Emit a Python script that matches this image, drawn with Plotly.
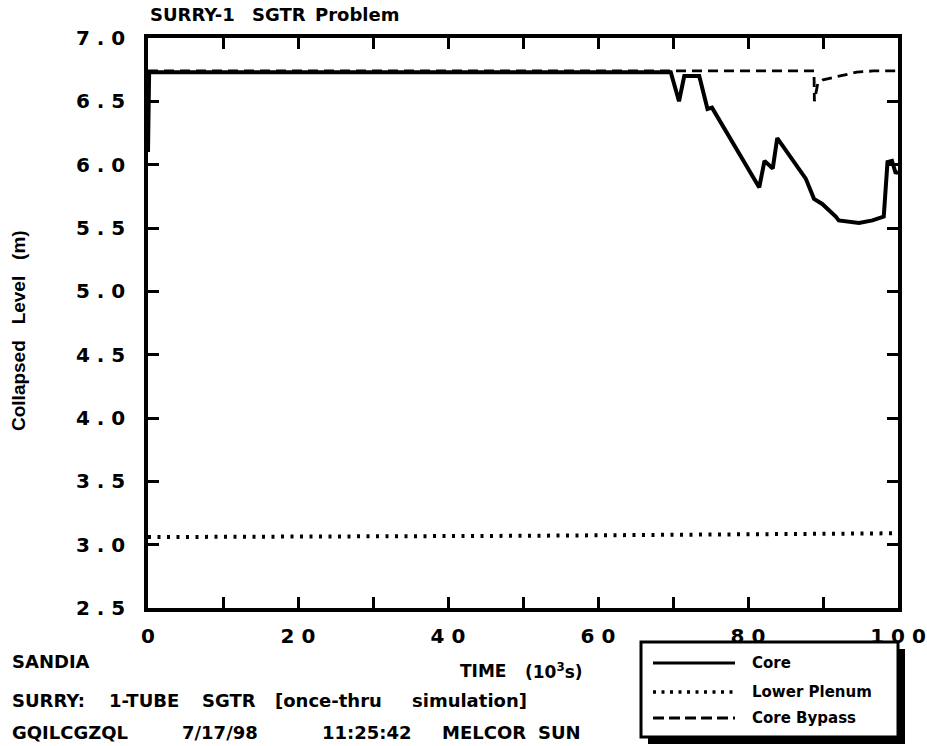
import plotly.graph_objects as go

# ---- data (time in 10^3 s, level in m) ----
core_t = [0.0, 0.15, 0.4, 69.7, 70.8, 71.5, 73.5, 74.6, 75.2, 76.2, 81.5, 82.2, 83.3, 83.9,
          87.7, 88.8, 89.9, 91.7, 92.1, 94.8, 96.6, 98.1, 98.6, 99.2, 99.7, 100.0]
core_v = [6.10, 6.73, 6.73, 6.73, 6.50, 6.70, 6.70, 6.44, 6.45, 6.35, 5.82, 6.03, 5.97, 6.21,
          5.89, 5.73, 5.69, 5.59, 5.56, 5.54, 5.56, 5.59, 6.02, 6.03, 5.93, 5.95]

plenum_t = [0.0, 50.0, 100.0]
plenum_v = [3.06, 3.07, 3.09]

bypass_t = [0.0, 88.8, 88.85, 89.3, 90.0, 94.5, 96.7, 100.0]
bypass_v = [6.74, 6.74, 6.50, 6.64, 6.67, 6.73, 6.74, 6.74]

x_ticks = [0, 10, 20, 30, 40, 50, 60, 70, 80, 90, 100]
x_ticktext = ["0", "", "2 0", "", "4 0", "", "6 0", "", "8 0", "", "1 0 0"]
y_ticks = [2.5, 3.0, 3.5, 4.0, 4.5, 5.0, 5.5, 6.0, 6.5, 7.0]
y_ticktext = ["2 . 5", "3 . 0", "3 . 5", "4 . 0", "4 . 5", "5 . 0", "5 . 5", "6 . 0", "6 . 5", "7 . 0"]

legend_names = ["Core", "Lower Plenum", "Core Bypass"]

W, H = 927, 746
L, R, T, B = 148, 898, 38, 608


def px(x):
    return (x - L) / (R - L)


def py(y):
    return (B - y) / (B - T)


FONT = "DejaVu Sans, Verdana, sans-serif"
NARROW = "Liberation Sans, Arial, sans-serif"
BLACK = "black"

core_line = dict(color=BLACK, width=4)
plenum_line = dict(color=BLACK, width=4, dash="3px,6.5px")
bypass_line = dict(color=BLACK, width=2.8, dash="10px,6px")

fig = go.Figure()
fig.add_trace(go.Scatter(x=core_t, y=core_v, mode="lines", line=core_line, name=legend_names[0], showlegend=False))
fig.add_trace(go.Scatter(x=plenum_t, y=plenum_v, mode="lines", line=plenum_line, name=legend_names[1], showlegend=False))
fig.add_trace(go.Scatter(x=bypass_t, y=bypass_v, mode="lines", line=bypass_line, name=legend_names[2], showlegend=False))

axis_common = dict(
    showgrid=False, zeroline=False, showline=True, linewidth=3.5, linecolor=BLACK,
    mirror="ticks", ticks="inside", ticklen=11, tickwidth=3, tickcolor=BLACK, automargin=False,
    tickfont=dict(family=FONT, size=20, color=BLACK, weight=700),
)

fig.update_layout(
    width=W, height=H, autosize=False,
    margin=dict(l=L, r=W - R, t=T, b=H - B, pad=0),
    paper_bgcolor="white", plot_bgcolor="white",
    xaxis=dict(range=[0, 100], tickmode="array", tickvals=x_ticks, ticktext=x_ticktext,
               ticklabelstandoff=7, **axis_common),
    yaxis=dict(range=[2.5, 7.0], tickmode="array", tickvals=y_ticks, ticktext=y_ticktext,
               ticklabelstandoff=15, **axis_common),
    showlegend=False,
)

annots = []


def txt(text, x, y, size=18, xanchor="left", weight=700, angle=0, family=FONT):
    annots.append(dict(text=text, x=px(x), y=py(y), xref="paper", yref="paper",
                       xanchor=xanchor, yanchor="middle", showarrow=False, textangle=angle,
                       font=dict(family=family, size=size, color=BLACK, weight=weight)))


def words(items, y, size=18):
    for w, x in items:
        txt(w, x, y, size=size)


# title
words([("SURRY-1", 148), ("SGTR", 250), ("Problem", 313)], 14, size=18)
# y-axis title
txt("Collapsed   Level   (m)", 18, 331, size=19, xanchor="center", weight=700, angle=-90, family=NARROW)
# x-axis title
words([("TIME", 458), ("(10<sup>3</sup>s)", 523)], 671, size=17)
# footer text
txt("SANDIA", 10, 661, size=18)
words([("SURRY:", 10), ("1-TUBE", 107), ("SGTR", 200), ("[once-thru", 273), ("simulation]", 410)], 700, size=18)
words([("GQILCGZQL", 10), ("7/17/98", 180), ("11:25:42", 320), ("MELCOR", 440), ("SUN", 536)], 732, size=18)

# legend box with drop shadow
lx0, lx1, ly0, ly1 = 641, 898, 642, 737
sh = 7
shapes = [
    dict(type="rect", xref="paper", yref="paper", x0=px(lx0 + sh), x1=px(lx1 + sh), y0=py(ly0 + sh), y1=py(ly1 + sh),
         fillcolor=BLACK, line=dict(color=BLACK, width=0)),
    dict(type="rect", xref="paper", yref="paper", x0=px(lx0), x1=px(lx1), y0=py(ly0), y1=py(ly1),
         fillcolor="white", line=dict(color=BLACK, width=3)),
]
leg_rows = [663, 692, 718]
leg_styles = [
    dict(color=BLACK, width=3),
    dict(color=BLACK, width=3.5, dash="3px,5.5px"),
    dict(color=BLACK, width=3, dash="11px,5px"),
]
for name, yy, st in zip(legend_names, leg_rows, leg_styles):
    shapes.append(dict(type="line", xref="paper", yref="paper", x0=px(653), x1=px(735), y0=py(yy), y1=py(yy),
                       line=st))
    txt(name, 750, yy, size=15, weight=700)

fig.update_layout(shapes=shapes, annotations=annots)
fig.write_html("out.html")
